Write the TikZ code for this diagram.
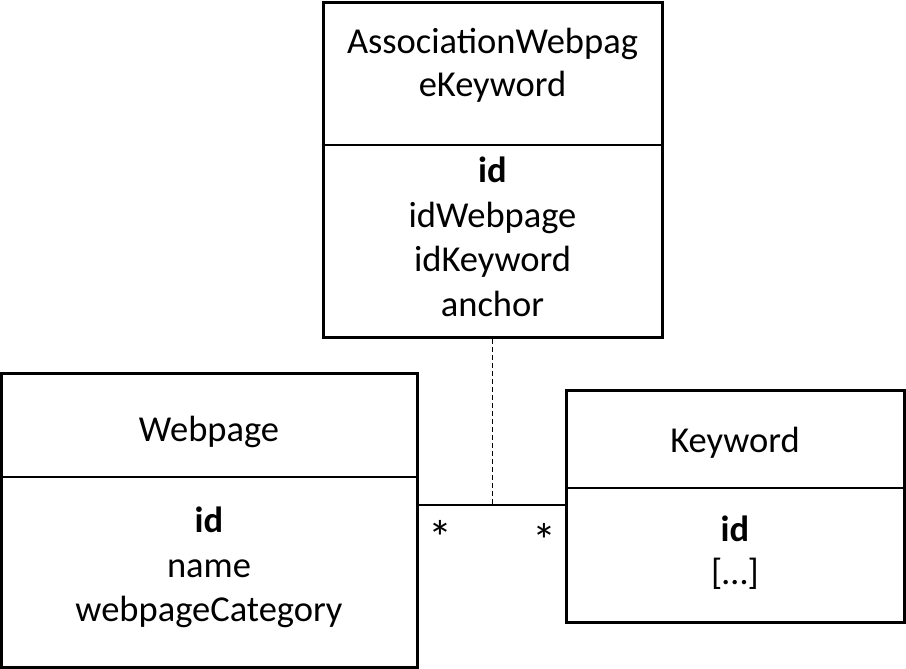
\documentclass[tikz,border=0pt]{standalone}
\usepackage{fontspec}
\setmainfont{Carlito}
\begin{document}
\begin{tikzpicture}[x=1pt,y=-1pt,
  box/.style={draw=black,line width=3pt,rectangle,inner sep=0pt},
  txt/.style={anchor=base,inner sep=0pt,font=\fontsize{36.5}{44}\selectfont},
  sep/.style={draw=black,line width=1.5pt},
  mult/.style={anchor=base,inner sep=0pt,font=\fontsize{48}{56}\selectfont}]
\useasboundingbox (0,0) rectangle (906,669);
% boxes
\node[box,minimum width=339pt,minimum height=334pt] (assoc) at (492.5,170) {};
\node[box,minimum width=416pt,minimum height=294pt] (webpage) at (209,520) {};
\node[box,minimum width=338pt,minimum height=232pt] (keyword) at (735,506) {};
% dividers
\coordinate (da) at (492.5,145);
\coordinate (dw) at (209,477);
\coordinate (dk) at (735,488);
\draw[sep] (da -| assoc.west) -- (da -| assoc.east);
\draw[sep] (dw -| webpage.west) -- (dw -| webpage.east);
\draw[sep] (dk -| keyword.west) -- (dk -| keyword.east);
% association texts
\node[txt] (a1) at (492.5,53.3) {AssociationWebpag};
\node[txt] (a2) at (492.5,96.7) {eKeyword};
\node[txt] (a3) at (492.5,182.3) {\bfseries id};
\node[txt] (a4) at (492.5,227.3) {idWebpage};
\node[txt] (a5) at (492.5,271.7) {idKeyword};
\node[txt] (a6) at (492.5,316.7) {anchor};
% webpage texts
\node[txt] (w1) at (209,441.7) {Webpage};
\node[txt] (w2) at (209,532.7) {\bfseries id};
\node[txt] (w3) at (209,577) {name};
\node[txt] (w4) at (209,621.5) {webpageCategory};
% keyword texts
\node[txt] (k1) at (735,452.7) {Keyword};
\node[txt] (k2) at (735,541.7) {\bfseries id};
\node[txt] (k3) at (735,584) {[…]};
% connectors
\coordinate (j) at (492.5,505);
\draw[sep] (j -| webpage.east) -- (j -| keyword.west);
\draw[black,line width=1pt,dash pattern=on 5pt off 3pt] (assoc.south) -- (j);
\node[mult] (m1) at (440,554) {*};
\node[mult] (m2) at (544,557) {*};
\end{tikzpicture}
\end{document}
